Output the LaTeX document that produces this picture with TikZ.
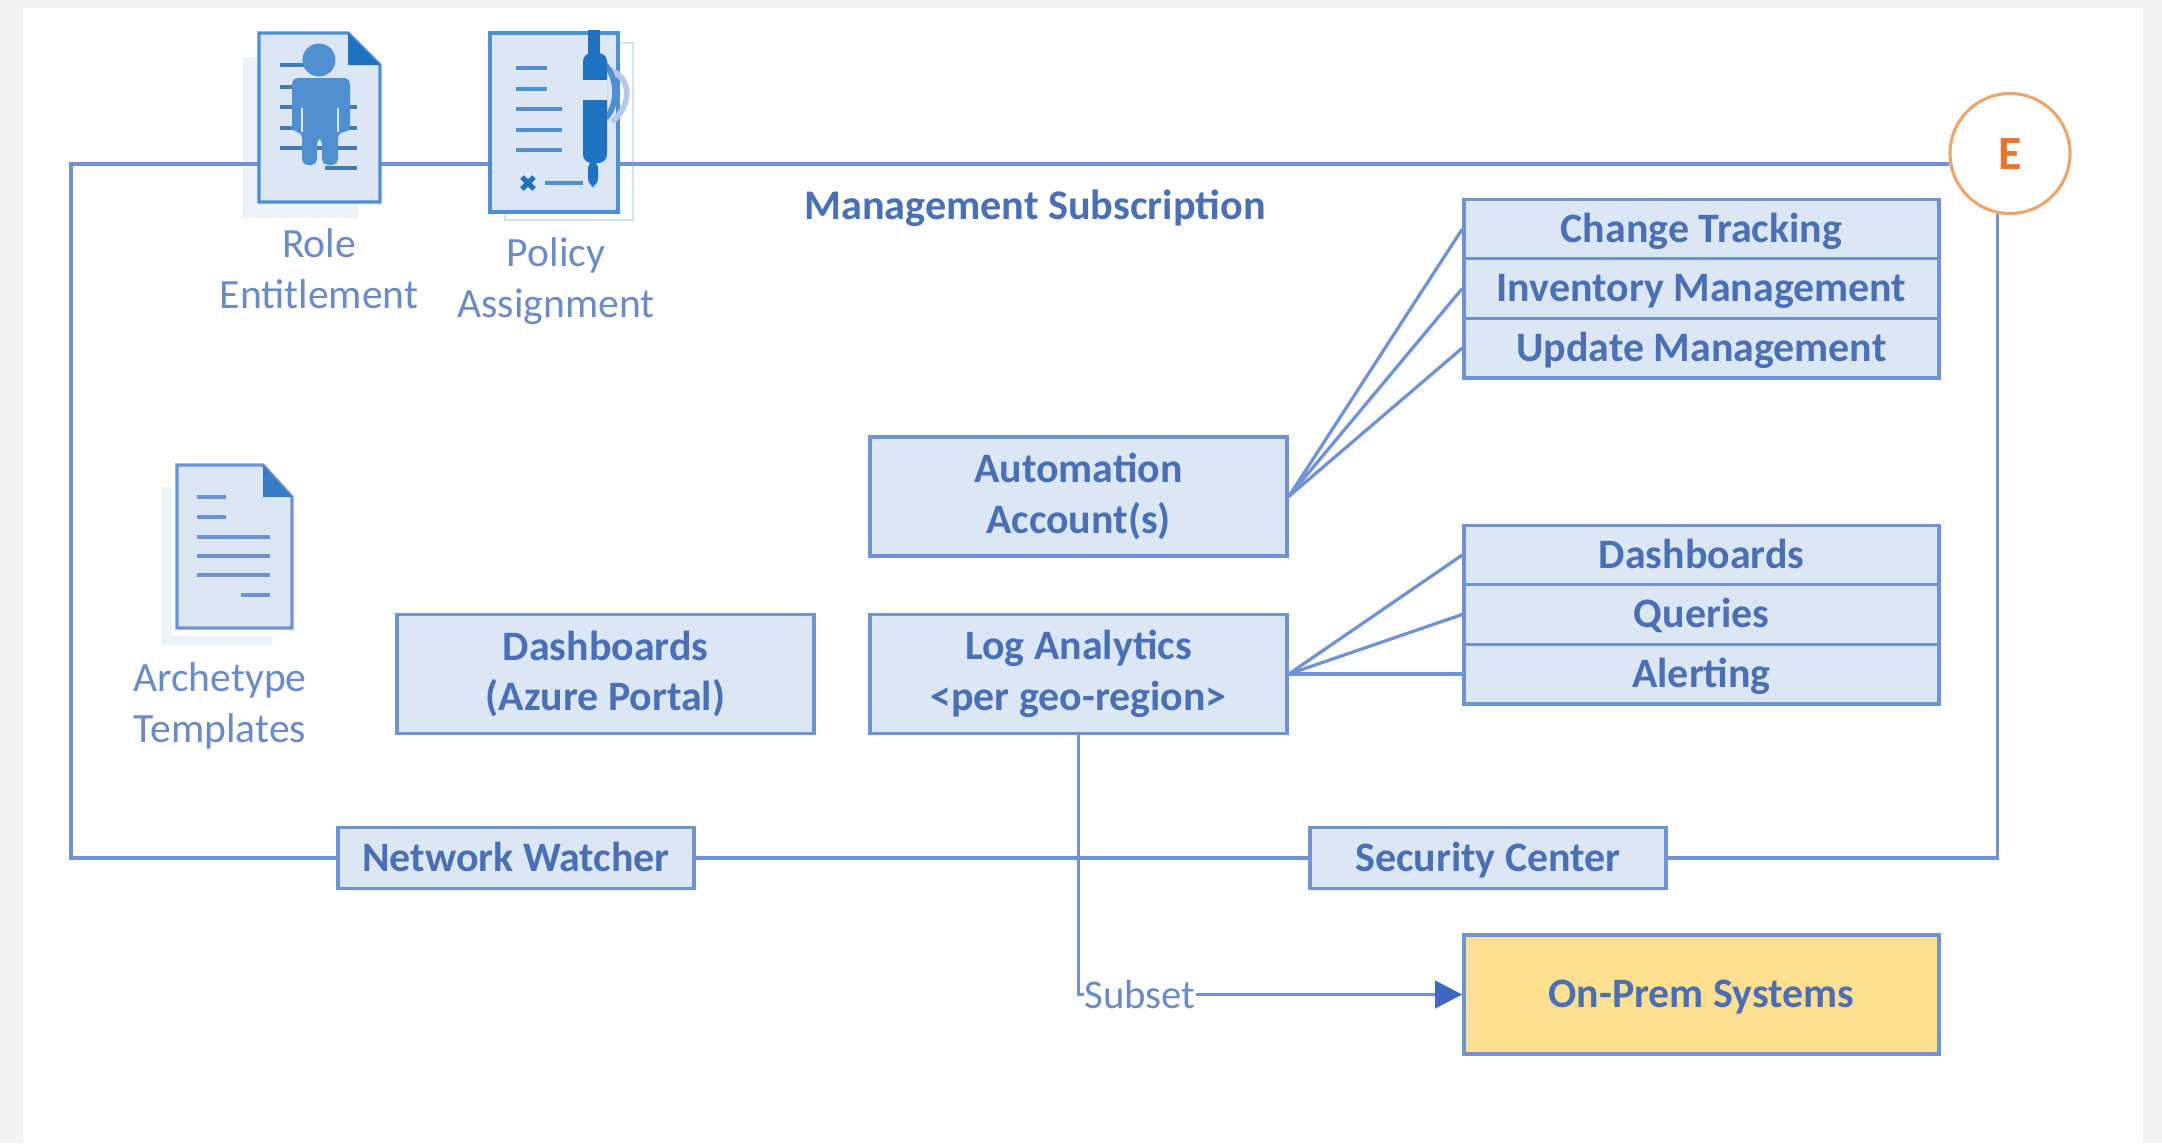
\documentclass[tikz,border=0pt]{standalone}
\usepackage{fontspec}
\setmainfont{Carlito}
\usetikzlibrary{arrows.meta}
\definecolor{boxline}{HTML}{6F93D2}
\definecolor{boxfill}{HTML}{DCE7F5}
\definecolor{boxtext}{HTML}{4A6FB5}
\definecolor{plaintext}{HTML}{6C8AC4}
\definecolor{iconline}{HTML}{4F8FD0}
\definecolor{icondark}{HTML}{1F72C2}
\definecolor{backpage}{HTML}{EEF3FA}
\definecolor{arrowblue}{HTML}{3F67C0}
\definecolor{orangeline}{HTML}{EDA56E}
\definecolor{orangetext}{HTML}{E5762B}
\definecolor{yellowfill}{HTML}{FFDF91}
\tikzset{
  pxbox/.style={draw=boxline, fill=boxfill, line width=1.2pt, text=boxtext, inner sep=0pt, align=center,
    font=\fontsize{14.9}{18}\selectfont\bfseries},
  widebox/.style={pxbox, minimum width=5.2125cm, minimum height=1.49cm},
  rowbox/.style={pxbox, minimum width=5.9375cm, minimum height=0.745cm, text height=12pt, text depth=2.5pt},
  barbox/.style={pxbox, minimum width=4.45cm, minimum height=0.76cm, text height=12pt, text depth=2.5pt},
  iconbox/.style={inner sep=0pt},
  iconlabel/.style={text=plaintext, align=center, font=\fontsize{14.8}{18}\selectfont},
  frameline/.style={draw=boxline, line width=1.15pt},
  page/.style={draw=iconline, fill=boxfill, line width=1.2pt},
  textline/.style={draw=iconline, line width=1.2pt},
}
\begin{document}
\begin{tikzpicture}[x=0.0125cm, y=-0.0125cm]
\useasboundingbox (0,0) rectangle (2162,1143);
\fill[black!5] (0,0) rectangle (2162,1143);
\fill[white] (23,8) rectangle (2143,1143);

% back sheets
\fill[backpage] (243,57) -- (243,218) -- (358,218) -- (358,202) -- (259,202) -- (259,57) -- cycle;
\draw[backpage!80!boxline, line width=1pt, fill=white] (505,212) -- (505,220) -- (633,220) -- (633,43) -- (618,43);
\fill[backpage] (162,487) -- (162,645) -- (272,645) -- (272,636) -- (172,636) -- (172,487) -- cycle;

% nodes
\node[iconbox, minimum width=1.5125cm, minimum height=2.1125cm] (roleIcon) at (319.5,118) {};
\node[iconbox, minimum width=1.6cm, minimum height=2.2375cm] (policyIcon) at (554,122.5) {};
\node[iconlabel] (roleLabel) at (319,269) {Role\\Entitlement};
\node[iconlabel] (policyLabel) at (556,281) {Policy\\Assignment};
\node[iconlabel] (archetypeLabel) at (220,706) {Archetype\\Templates};
\node[text=boxtext, font=\fontsize{15}{18}\selectfont\bfseries] (mgmtTitle) at (1035,208) {Management Subscription};

\node[rowbox] (changeTracking) at (1701.5,229) {Change Tracking};
\node[rowbox] (inventoryMgmt) at (1701.5,288.5) {Inventory Management};
\node[rowbox] (updateMgmt) at (1701.5,348) {Update Management};
\node[rowbox] (dashRow) at (1701.5,555) {Dashboards};
\node[rowbox] (queriesRow) at (1701.5,614.5) {Queries};
\node[rowbox] (alertingRow) at (1701.5,674) {Alerting};

\node[widebox] (automation) at (1078.5,496.5) {Automation\\Account(s)};
\node[widebox] (logAnalytics) at (1078.5,674) {Log Analytics\\<per geo-region>};
\node[widebox] (portalDash) at (605.5,674) {Dashboards\\(Azure Portal)};

\node[barbox] (networkWatcher) at (516,858) {Network Watcher};
\node[barbox] (securityCenter) at (1488,858) {Security Center};
\node[rowbox, minimum height=1.49cm, fill=yellowfill] (onPrem) at (1701.5,994.5) {On-Prem Systems};
\node[text=plaintext, inner sep=0pt, font=\fontsize{14.5}{18}\selectfont] (subset) at (1140,994.5) {Subset};

\node[circle, draw=orangeline, fill=white, line width=1.1pt, minimum size=1.5cm, inner sep=0pt,
  text=orangetext, font=\fontsize{17}{18}\selectfont\bfseries] (eCircle) at (2010,153.5) {E};
\coordinate (frameNW) at (71,164);

% frame
\draw[frameline] (networkWatcher.west) -| (frameNW) -- (roleIcon.west |- frameNW);
\draw[frameline] (roleIcon.east |- frameNW) -- (policyIcon.west |- frameNW);
\draw[frameline] (policyIcon.east |- frameNW) -- (eCircle.190 |- frameNW);
\draw[frameline] (networkWatcher.east) -- (securityCenter.west);
\draw[frameline] (securityCenter.east) -| (eCircle.258);

% connectors
\foreach \target in {changeTracking,inventoryMgmt,updateMgmt}
  \draw[frameline] (automation.east) -- (\target.west);
\foreach \target in {dashRow,queriesRow,alertingRow}
  \draw[frameline] (logAnalytics.east) -- (\target.west);
\draw[frameline] (logAnalytics.south) |- (subset.west);
\draw[frameline, -{Triangle[length=0.34cm, width=0.34cm, color=arrowblue]}] (subset.east) -- (onPrem.west);

% role entitlement
\draw[page] (259,33) -- (348,33) -- (380,65) -- (380,202) -- (259,202) -- cycle;
\fill[icondark] (348,33) -- (380,65) -- (348,65) -- cycle;
\foreach \ya/\xa/\xb in {65/280/305,87/280/292,107/280/357,128/280/357,148/280/357,168/325/357}
  \draw[textline, draw=iconline!85!black] (\xa,\ya) -- (\xb,\ya);
\fill[iconline] (319,60) circle (16.5);
\fill[iconline, rounded corners=2pt] (292,132) -- (292,78) -- (350,78) -- (350,132) -- (338,132) -- (338,165) -- (322,165) -- (322,138) -- (317,138) -- (317,165) -- (302,165) -- (302,132) -- cycle;
\draw[boxfill, line width=0.8pt] (302,108) -- (302,132) (338,108) -- (338,132);

% policy assignment
\draw[page] (490,33) rectangle (618,212);
\foreach \ya/\xb in {68/547,89/547,109/562,130/562,150/562}
  \draw[textline] (516,\ya) -- (\xb,\ya);
\draw[textline] (545,183) -- (583,183);
\draw[icondark, line width=1.8pt] (522,177) -- (534,189) (522,189) -- (534,177);
\draw[boxline!50, line width=2pt] (610,70) .. controls (632,78) and (632,105) .. (612,122);
\draw[iconline, line width=2pt] (600,60) .. controls (620,75) and (618,105) .. (606,118);
\fill[icondark] (588,30) rectangle (600,55);
\fill[icondark, rounded corners=3pt] (583,163) -- (583,53) -- (607,53) -- (607,163) -- cycle;
\fill[boxfill] (583,80) rectangle (607,100);
\fill[icondark, rounded corners=3pt] (588,160) rectangle (598,187);

% archetype templates
\draw[page, draw=boxline] (177,465) -- (263,465) -- (292,497) -- (292,628) -- (177,628) -- cycle;
\fill[icondark!70!boxline] (263,465) -- (292,497) -- (263,497) -- cycle;
\foreach \ya/\xa/\xb in {497/197/226,517/197/226,537/197/270,556/197/270,575/197/270,595/241/270}
  \draw[textline, draw=boxline] (\xa,\ya) -- (\xb,\ya);
\end{tikzpicture}
\end{document}
